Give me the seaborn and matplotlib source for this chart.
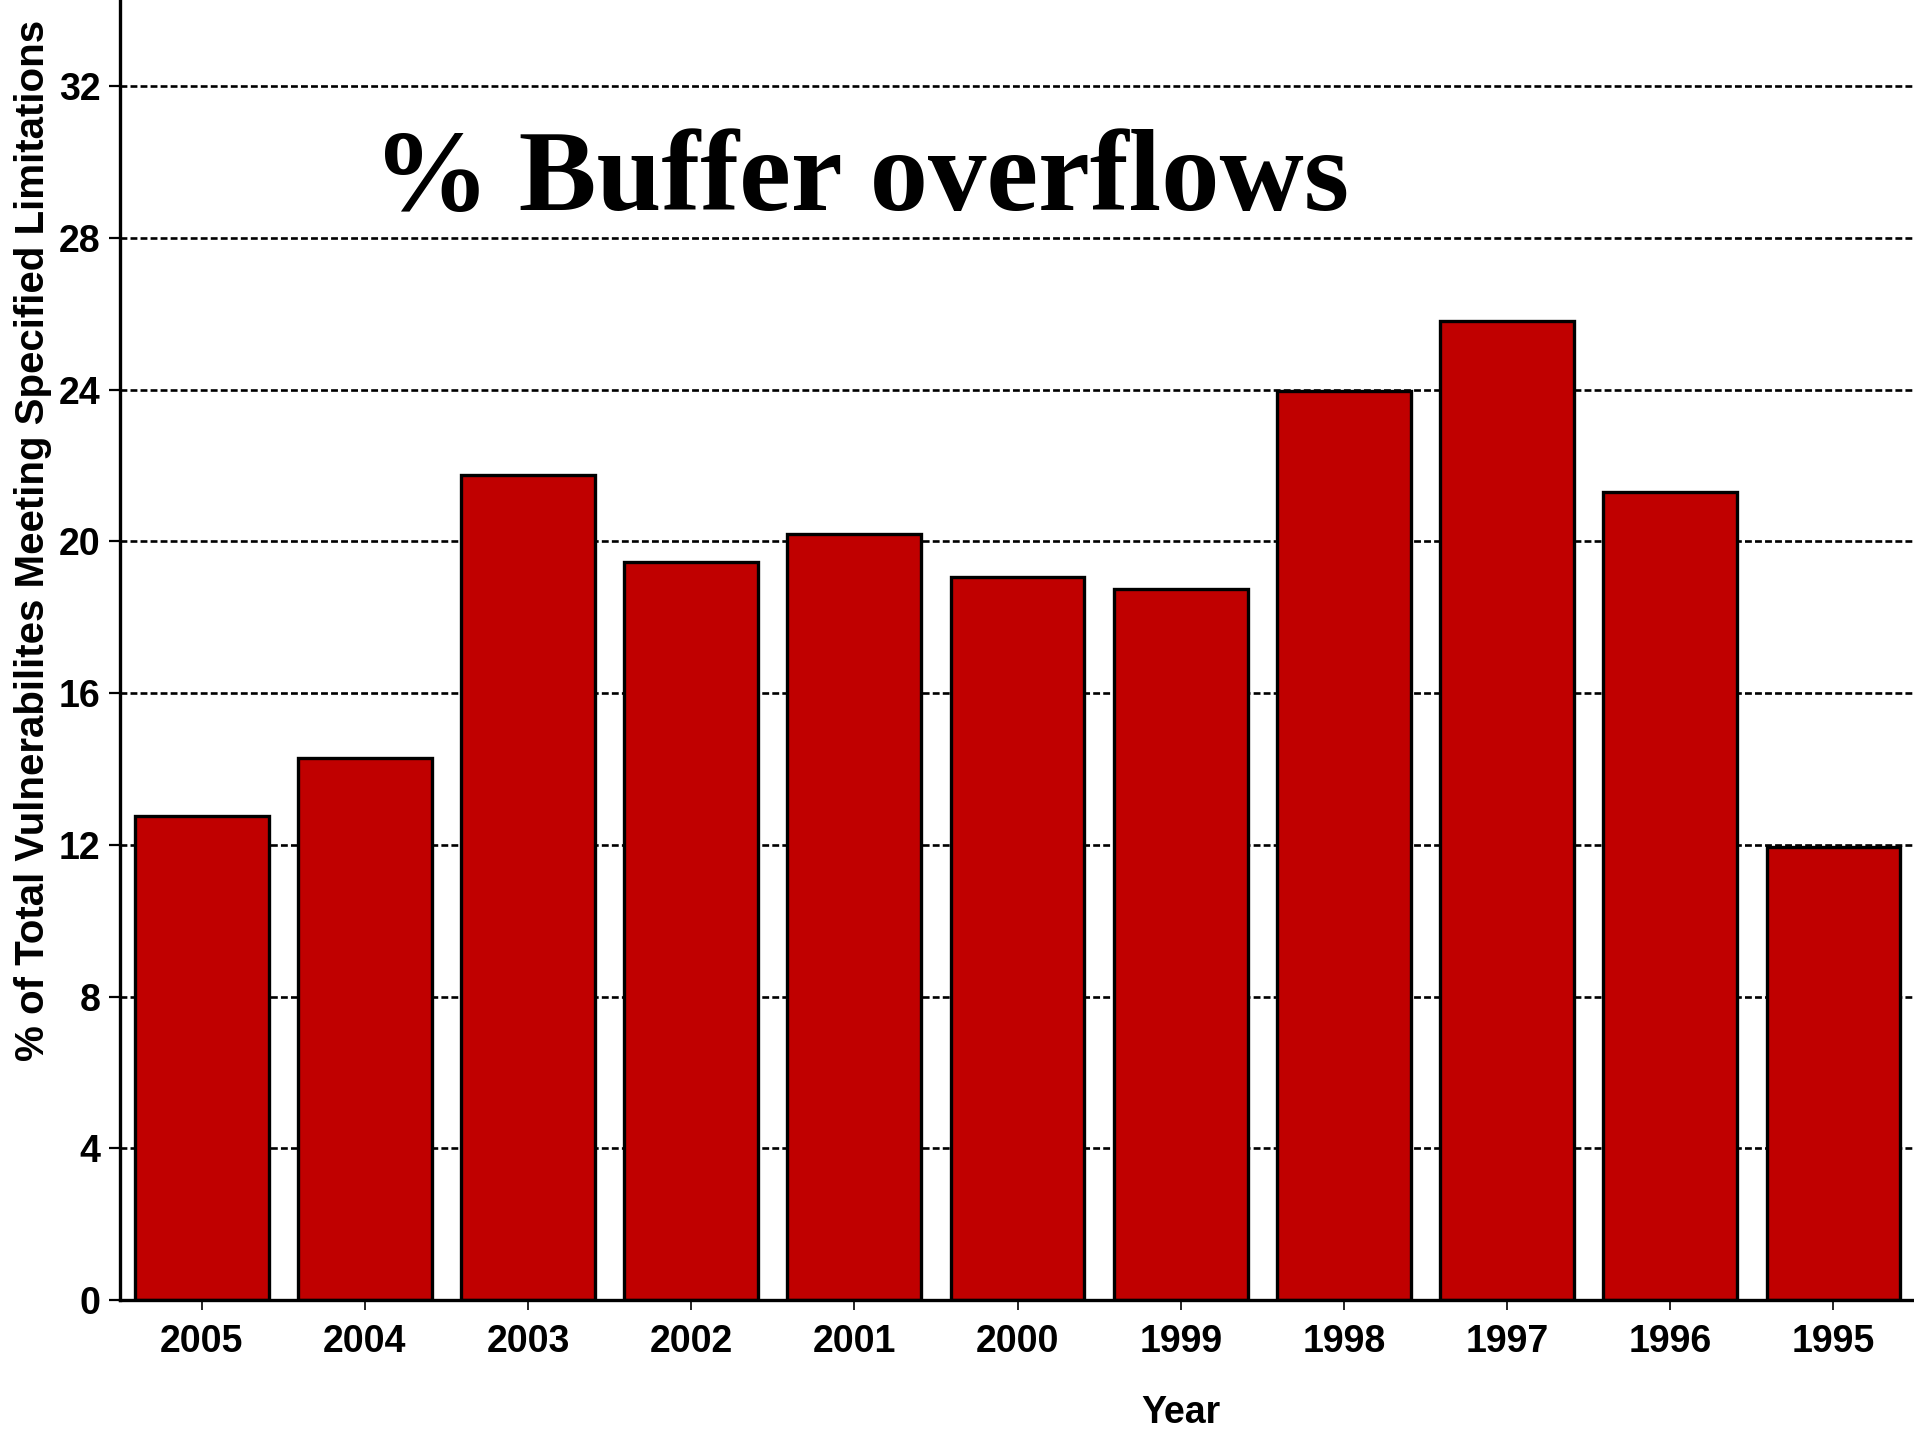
import pandas as pd
import seaborn as sns
import matplotlib.pyplot as plt

YEARS = ["2005", "2004", "2003", "2002", "2001", "2000", "1999", "1998", "1997", "1996", "1995"]
PCT_OVERFLOW = [12.75, 14.3, 21.75, 19.45, 20.2, 19.05, 18.75, 23.95, 25.8, 21.3, 11.95]
Y_TICKS = [0, 4, 8, 12, 16, 20, 24, 28, 32]

SANS = ["Liberation Sans", "DejaVu Sans"]


def main():
    sns.set_style("white")
    plt.rcParams["text.color"] = "black"
    plt.rcParams["xtick.color"] = "black"
    plt.rcParams["ytick.color"] = "black"
    plt.rcParams["axes.labelcolor"] = "black"
    df = pd.DataFrame({"year": YEARS, "pct": PCT_OVERFLOW})

    fig = plt.figure(figsize=(19.15, 14.35), dpi=100)
    ax = fig.add_axes([0.0627, 0.0941, 1 - 0.0627, 1 - 0.0941])

    # dashed grid first so the bars sit on top of it
    for v in Y_TICKS[1:]:
        ax.axhline(v, color="black", lw=1.9, ls=(0, (2.6, 1.2)), zorder=0)

    sns.barplot(data=df, x="year", y="pct", order=YEARS, color="#C00000", saturation=1,
                edgecolor="black", linewidth=2.4, width=0.82, ax=ax, zorder=2)

    ax.set_xlim(-0.5, 10.5)
    ax.set_ylim(0, 34.27)
    ax.set_yticks(Y_TICKS)
    ax.set_xlabel("")
    ax.set_ylabel("")

    for s in ["top", "right"]:
        ax.spines[s].set_visible(False)
    for s in ["left", "bottom"]:
        ax.spines[s].set_color("black")
        ax.spines[s].set_linewidth(2.4)
        ax.spines[s].set_zorder(3)

    ax.tick_params(axis="y", direction="out", length=8, width=1.6, pad=6, left=True)
    ax.tick_params(axis="x", direction="out", length=7, width=1.2, pad=10, bottom=True)
    for lab in ax.get_yticklabels() + ax.get_xticklabels():
        lab.set_family(SANS)
        lab.set_fontweight("bold")
        lab.set_fontsize(27)
        lab.set_color("black")

    fig.text(0.0172, 0.6233, "% of Total Vulnerabilites Meeting Specified Limitations", rotation=90,
             ha="center", va="center", fontsize=29, fontweight="bold", family=SANS)
    fig.text(0.6167, 0.0153, "Year", ha="center", va="center", fontsize=27, fontweight="bold",
             family=SANS)
    fig.text(0.4496, 0.8537, "% Buffer overflows", ha="center", va="baseline", fontsize=84,
             fontweight="bold", family=["Liberation Serif", "DejaVu Serif"])

    fig.savefig("out.png", dpi=100, facecolor="white")


if __name__ == "__main__":
    main()
